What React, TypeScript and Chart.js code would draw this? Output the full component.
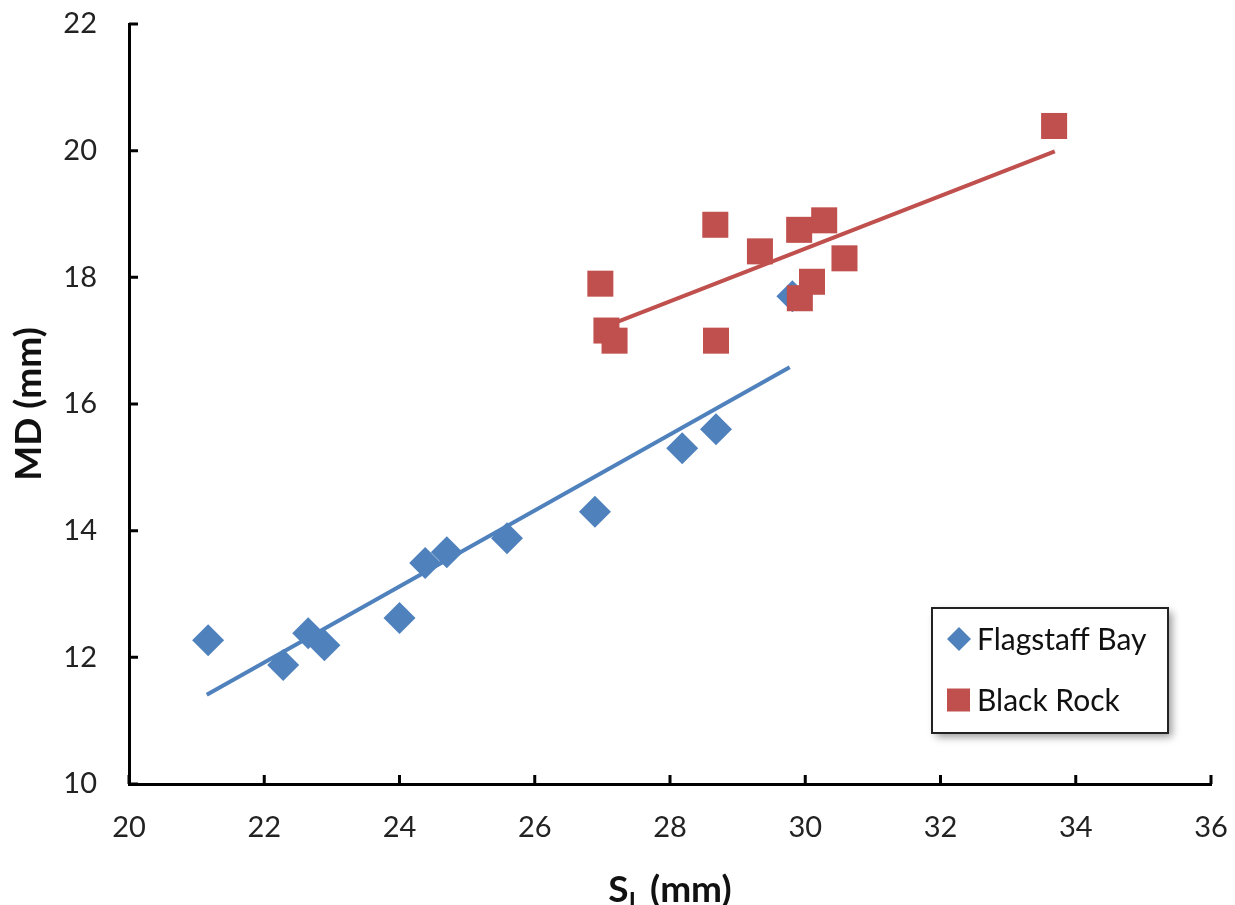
import React, { useEffect, useRef } from 'react';
import { Chart, registerables } from 'chart.js';

Chart.register(...registerables);

const flagstaffX = [21.17, 22.28, 22.65, 22.89, 24.0, 24.38, 24.7, 25.59, 26.89, 28.18, 28.68, 29.81];
const flagstaffY = [12.27, 11.88, 12.38, 12.19, 12.62, 13.49, 13.66, 13.88, 14.3, 15.3, 15.6, 17.7];
const blackRockX = [26.97, 27.06, 27.18, 28.67, 28.68, 29.33, 29.91, 30.28, 30.58, 30.1, 29.92, 33.68];
const blackRockY = [17.9, 17.16, 17.0, 18.83, 17.0, 18.41, 18.75, 18.9, 18.3, 17.93, 17.67, 20.39];
const flagstaffTrendX = [21.15, 29.77];
const flagstaffTrendY = [11.41, 16.58];
const blackRockTrendX = [27.23, 33.69];
const blackRockTrendY = [17.3, 19.99];
const xTicks = [20, 22, 24, 26, 28, 30, 32, 34, 36];
const yTicks = [10, 12, 14, 16, 18, 20, 22];
const seriesNames = ['Flagstaff Bay', 'Black Rock'];
const xTitle = ['S', 'L', ' (mm)'];
const yTitle = 'MD (mm)';

const BLUE = '#4F81BD';
const RED = '#C0504D';
const FONT = 'Lato, "Open Sans", sans-serif';

const zip = (xs: number[], ys: number[]) => xs.map((x, i) => ({ x, y: ys[i] }));

const zeroPad = (s: any) => {
  s.paddingTop = 0;
  s.paddingBottom = 0;
  s.paddingLeft = 0;
  s.paddingRight = 0;
};

const decorPlugin = {
  id: 'decor',
  afterDraw(chart: any) {
    const ctx = chart.ctx as CanvasRenderingContext2D;
    const xs = chart.scales.x;
    const ys = chart.scales.y;
    const area = chart.chartArea;
    ctx.save();
    // inward ticks
    ctx.strokeStyle = '#000';
    ctx.lineWidth = 3;
    ctx.beginPath();
    xTicks.forEach((v) => {
      const px = xs.getPixelForValue(v);
      ctx.moveTo(px, area.bottom);
      ctx.lineTo(px, area.bottom - 9);
    });
    yTicks.forEach((v) => {
      const py = ys.getPixelForValue(v);
      ctx.moveTo(area.left, py);
      ctx.lineTo(area.left + 9, py);
    });
    ctx.stroke();

    // x title with subscript
    ctx.fillStyle = '#111';
    ctx.textBaseline = 'alphabetic';
    const bigFont = 'bold 37px ' + FONT;
    const subFont = 'bold 24px ' + FONT;
    ctx.font = bigFont;
    const w0 = ctx.measureText(xTitle[0]).width;
    const w2 = ctx.measureText(xTitle[2]).width;
    ctx.font = subFont;
    const w1 = ctx.measureText(xTitle[1]).width;
    const total = w0 + w1 + w2;
    const cx = (area.left + area.right) / 2;
    const x0 = cx - total / 2;
    const base = 902;
    ctx.textAlign = 'left';
    ctx.font = bigFont;
    ctx.fillText(xTitle[0], x0, base);
    ctx.font = subFont;
    ctx.fillText(xTitle[1], x0 + w0, base + 8);
    ctx.font = bigFont;
    ctx.fillText(xTitle[2], x0 + w0 + w1, base);

    // y title
    ctx.save();
    ctx.translate(41, (area.top + area.bottom) / 2);
    ctx.rotate(-Math.PI / 2);
    ctx.textAlign = 'center';
    ctx.font = bigFont;
    ctx.fillText(yTitle, 0, 0);
    ctx.restore();

    // legend
    const lx = area.right - 279;
    const ly = area.bottom - 176;
    const lw = 236;
    const lh = 125;
    ctx.save();
    ctx.shadowColor = 'rgba(0,0,0,0.4)';
    ctx.shadowBlur = 8;
    ctx.shadowOffsetX = 4;
    ctx.shadowOffsetY = 4;
    ctx.fillStyle = '#fff';
    ctx.fillRect(lx, ly, lw, lh);
    ctx.restore();
    ctx.lineWidth = 2;
    ctx.strokeStyle = '#222';
    ctx.strokeRect(lx, ly, lw, lh);

    ctx.font = '30px ' + FONT;
    ctx.textBaseline = 'middle';
    ctx.textAlign = 'left';
    const d1y = ly + 31;
    ctx.fillStyle = BLUE;
    ctx.beginPath();
    ctx.moveTo(lx + 27, d1y - 12);
    ctx.lineTo(lx + 39, d1y);
    ctx.lineTo(lx + 27, d1y + 12);
    ctx.lineTo(lx + 15, d1y);
    ctx.closePath();
    ctx.fill();
    ctx.fillStyle = '#111';
    ctx.fillText(seriesNames[0], lx + 45, d1y + 1);
    const d2y = ly + 92;
    ctx.fillStyle = RED;
    ctx.fillRect(lx + 15, d2y - 11.5, 23, 23);
    ctx.fillStyle = '#111';
    ctx.fillText(seriesNames[1], lx + 45, d2y + 1);
    ctx.restore();
  },
};

export default function App() {
  const ref = useRef<HTMLCanvasElement>(null);
  useEffect(() => {
    if (!ref.current) return;
    const chart = new Chart(ref.current, {
      type: 'scatter',
      data: {
        datasets: [
          {
            label: 'Flagstaff trend',
            type: 'line',
            data: zip(flagstaffTrendX, flagstaffTrendY),
            borderColor: BLUE,
            borderWidth: 4,
            pointRadius: 0,
            fill: false,
          } as any,
          {
            label: 'Black Rock trend',
            type: 'line',
            data: zip(blackRockTrendX, blackRockTrendY),
            borderColor: RED,
            borderWidth: 4,
            pointRadius: 0,
            fill: false,
          } as any,
          {
            label: seriesNames[1],
            data: zip(blackRockX, blackRockY),
            pointStyle: 'rect',
            pointRadius: 18.4,
            backgroundColor: RED,
            borderColor: RED,
            borderWidth: 0,
          },
          {
            label: seriesNames[0],
            data: zip(flagstaffX, flagstaffY),
            pointStyle: 'rectRot',
            pointRadius: 16,
            backgroundColor: BLUE,
            borderColor: BLUE,
            borderWidth: 0,
          },
        ],
      },
      options: {
        responsive: false,
        animation: false,
        layout: { padding: { top: 24, right: 24, left: 0, bottom: 0 } },
        plugins: { legend: { display: false }, tooltip: { enabled: false } },
        scales: {
          x: {
            type: 'linear',
            min: 20,
            max: 36,
            afterFit: (s: any) => { s.height = 121; zeroPad(s); },
            afterBuildTicks: (s: any) => { s.ticks = xTicks.map((v) => ({ value: v })); },
            grid: { display: false, drawTicks: false },
            border: { display: true, color: '#000', width: 3 },
            ticks: { padding: 26, color: '#222', font: { family: FONT, size: 29 } },
          },
          y: {
            type: 'linear',
            min: 10,
            max: 22,
            afterFit: (s: any) => { s.width = 129; zeroPad(s); },
            afterBuildTicks: (s: any) => { s.ticks = yTicks.map((v) => ({ value: v })); },
            grid: { display: false, drawTicks: false },
            border: { display: true, color: '#000', width: 3 },
            ticks: { padding: 32, color: '#222', font: { family: FONT, size: 29 } },
          },
        },
      },
      plugins: [decorPlugin],
    });
    return () => chart.destroy();
  }, []);
  return (
    <div style={{ position: 'fixed', left: 0, top: 0, width: 1235, height: 905, background: '#fff' }}>
      <canvas ref={ref} width={1235} height={905} />
    </div>
  );
}
